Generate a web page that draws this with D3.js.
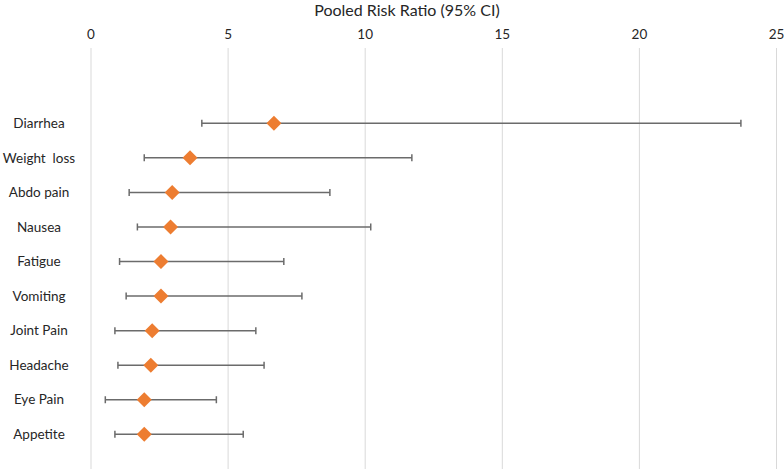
<!DOCTYPE html>
<html>
<head>
<meta charset="utf-8">
<script src="https://cdn.jsdelivr.net/npm/d3@7"></script>
<style>
  html, body { margin: 0; padding: 0; background: #fff; }
  svg { display: block; font-family: Lato, "Open Sans", sans-serif; }
</style>
</head>
<body>
<svg id="chart" width="784" height="469"></svg>
<script>
const categories = ["Diarrhea", "Weight  loss", "Abdo pain", "Nausea", "Fatigue", "Vomiting", "Joint Pain", "Headache", "Eye Pain", "Appetite"];
const riskRatio = [6.69, 3.63, 2.98, 2.92, 2.57, 2.57, 2.25, 2.20, 1.96, 1.96];
const lowerCI   = [4.06, 1.96, 1.41, 1.71, 1.06, 1.30, 0.89, 1.00, 0.54, 0.89];
const upperCI   = [23.72, 11.72, 8.73, 10.22, 7.05, 7.71, 6.03, 6.33, 4.59, 5.57];
const xTicks = [0, 5, 10, 15, 20, 25];
const title = "Pooled Risk Ratio (95% CI)";

const svg = d3.select("#chart");
const x = d3.scaleLinear().domain([0, 25]).range([90.5, 776]);
const y = d3.scalePoint().domain(categories).range([123.3, 434.3]);
const gridTop = 48, gridBottom = 469;

// gridlines
svg.append("g")
  .attr("transform", `translate(0,${gridTop})`)
  .call(d3.axisBottom(x).tickValues(xTicks).tickSize(gridBottom - gridTop).tickFormat(""))
  .call(g => g.select(".domain").remove())
  .call(g => g.selectAll(".tick line").attr("stroke", "#d9d9d9").attr("stroke-width", 1));

// tick labels
svg.append("g")
  .attr("transform", "translate(0,39)")
  .call(d3.axisTop(x).tickValues(xTicks).tickSize(0).tickPadding(0).tickFormat(d3.format("d")))
  .call(g => g.select(".domain").remove())
  .call(g => g.selectAll(".tick text").attr("fill", "#262626").style("font-size", "13.5px").style("font-family", "Lato, 'Open Sans', sans-serif"));

// title
svg.append("text")
  .attr("x", 407).attr("y", 16)
  .attr("text-anchor", "middle")
  .attr("fill", "#262626")
  .style("font-size", "16px")
  .text(title);

const data = categories.map((c, i) => ({c, v: riskRatio[i], lo: lowerCI[i], hi: upperCI[i]}));

const rows = svg.append("g").selectAll("g").data(data).join("g");

// category labels
rows.append("text")
  .attr("x", 39).attr("y", d => y(d.c))
  .attr("dy", "0.35em")
  .attr("text-anchor", "middle")
  .attr("fill", "#262626")
  .style("font-size", "13.5px")
  .style("white-space", "pre")
  .text(d => d.c);

const errColor = "#6b6b6b";
rows.append("line")
  .attr("x1", d => x(d.lo)).attr("x2", d => x(d.hi))
  .attr("y1", d => y(d.c)).attr("y2", d => y(d.c))
  .attr("stroke", errColor).attr("stroke-width", 1.5);
rows.append("line")
  .attr("x1", d => x(d.lo)).attr("x2", d => x(d.lo))
  .attr("y1", d => y(d.c) - 3.5).attr("y2", d => y(d.c) + 3.5)
  .attr("stroke", errColor).attr("stroke-width", 1.5);
rows.append("line")
  .attr("x1", d => x(d.hi)).attr("x2", d => x(d.hi))
  .attr("y1", d => y(d.c) - 3.5).attr("y2", d => y(d.c) + 3.5)
  .attr("stroke", errColor).attr("stroke-width", 1.5);

// diamonds
rows.append("path")
  .attr("transform", d => `translate(${x(d.v)},${y(d.c)})`)
  .attr("d", "M0,-7.5L7.5,0L0,7.5L-7.5,0Z")
  .attr("fill", "#ed7d31");
</script>
</body>
</html>
